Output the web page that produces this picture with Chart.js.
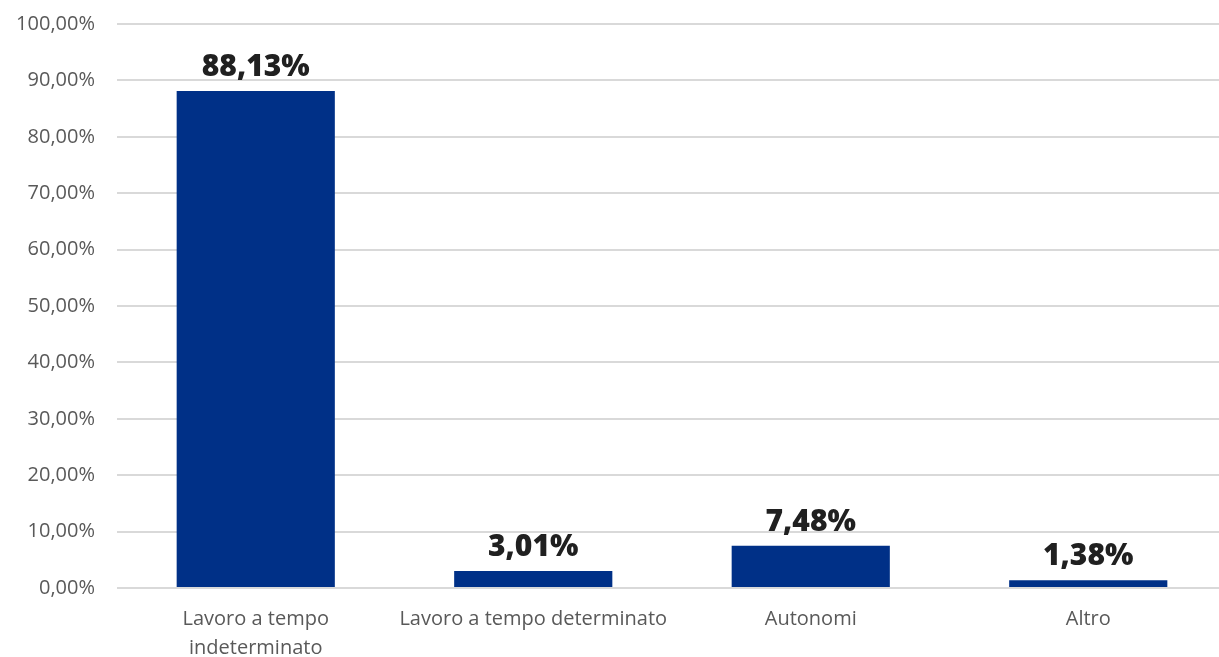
<!DOCTYPE html>
<html>
<head>
<meta charset="utf-8">
<script src="https://cdn.jsdelivr.net/npm/chart.js@4/dist/chart.umd.min.js"></script>
<style>
  html, body { margin: 0; padding: 0; background: #fff; }
  #wrap { width: 1219px; height: 657px; overflow: hidden; }
</style>
</head>
<body>
<div id="wrap"><canvas id="chart" width="1227" height="657"></canvas></div>
<script>
const categories = [['Lavoro a tempo', 'indeterminato'], 'Lavoro a tempo determinato', 'Autonomi', 'Altro'];
const values = [88.13, 3.01, 7.48, 1.38];

const fmt = v => v.toFixed(2).replace('.', ',') + '%';

// etichette in grassetto sopra le barre
const barLabels = {
    id: 'barLabels',
    afterDatasetsDraw(chart) {
        const ctx = chart.ctx;
        const meta = chart.getDatasetMeta(0);
        ctx.save();
        ctx.font = '800 30px "Open Sans"';
        ctx.fillStyle = '#202020';
        ctx.textAlign = 'center';
        ctx.textBaseline = 'alphabetic';
        meta.data.forEach((bar, i) => {
            ctx.fillText(fmt(values[i]), bar.x, bar.y - 15);
        });
        ctx.restore();
    }
};

const ctx = document.getElementById('chart').getContext('2d');
new Chart(ctx, {
    type: 'bar',
    data: {
        labels: categories,
        datasets: [{
            data: values,
            backgroundColor: '#003087',
            categoryPercentage: 1,
            barPercentage: 0.57
        }]
    },
    options: {
        responsive: false,
        animation: false,
        layout: { padding: { top: 24, right: 0, left: 0, bottom: 0 } },
        plugins: {
            legend: { display: false },
            title: { display: false },
            tooltip: { enabled: false }
        },
        scales: {
            x: {
                grid: { display: false, drawTicks: false },
                border: { display: false },
                ticks: {
                    color: '#595959',
                    font: { family: 'Open Sans', size: 20, lineHeight: 1.45 },
                    padding: 17,
                    maxRotation: 0,
                    autoSkip: false
                },
                afterFit(scale) {
                    scale.height = 69;
                    scale.paddingTop = 0;
                    scale.paddingBottom = 0;
                    scale.paddingLeft = 0;
                    scale.paddingRight = 0;
                }
            },
            y: {
                min: 0,
                max: 100,
                ticks: {
                    stepSize: 10,
                    color: '#595959',
                    font: { family: 'Open Sans', size: 20 },
                    padding: 22,
                    callback: v => fmt(v)
                },
                grid: { color: '#d9d9d9', lineWidth: 2, drawTicks: false },
                border: { display: false },
                afterFit(scale) {
                    scale.width = 117;
                    scale.paddingTop = 0;
                    scale.paddingBottom = 0;
                }
            }
        }
    },
    plugins: [barLabels]
});
</script>
</body>
</html>
